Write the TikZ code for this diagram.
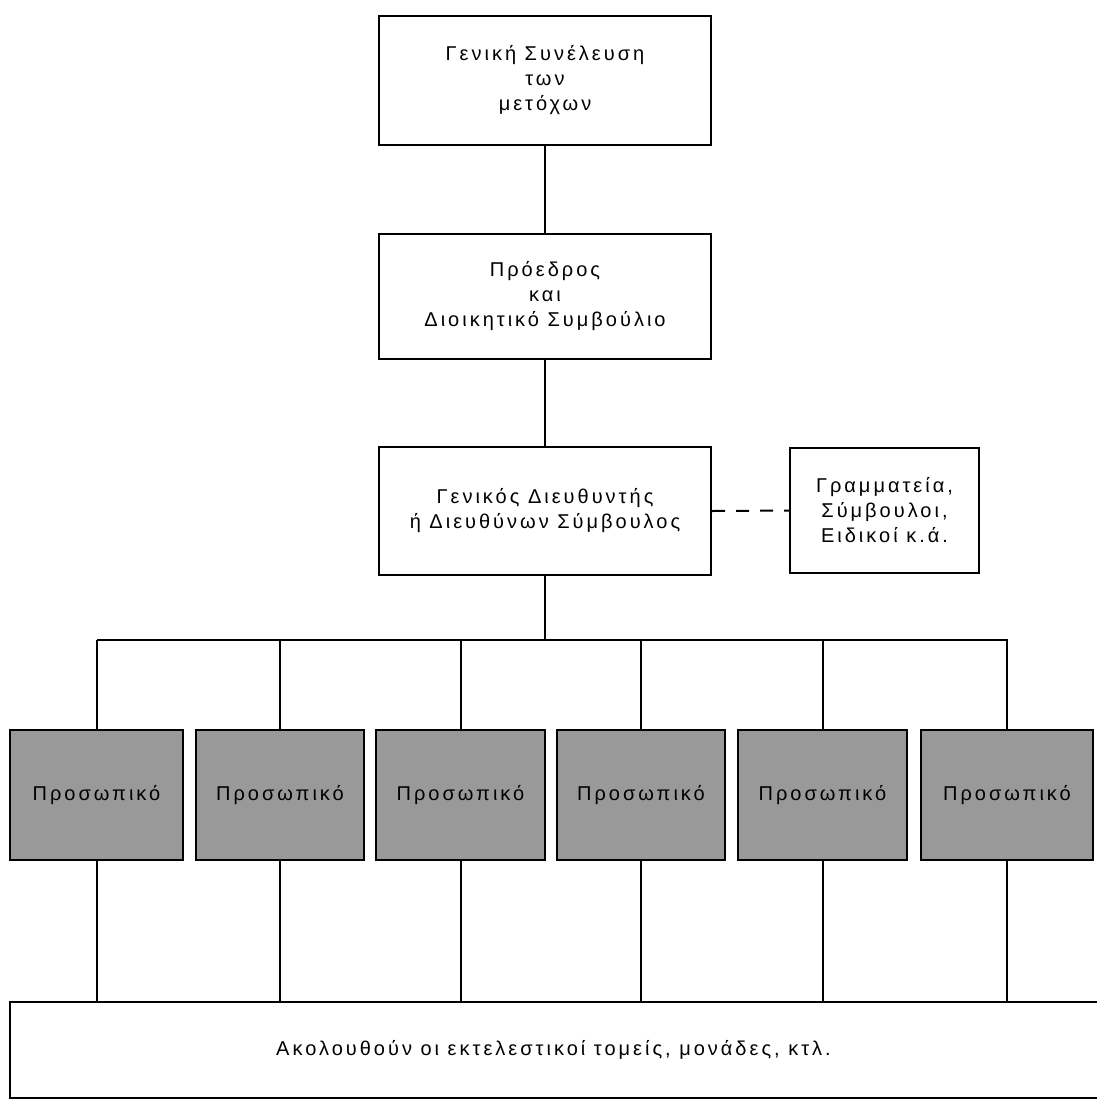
\documentclass[tikz,border=0pt]{standalone}
\usepackage{fontspec}
\setmainfont{Liberation Sans}[LetterSpace=15]
\begin{document}
\begin{tikzpicture}[x=1pt,y=-1pt,
  orgbox/.style={draw=black,line width=2pt,fill=white,align=center,inner sep=0pt,
    font=\fontsize{20}{25}\selectfont},
  staffbox/.style={draw=black,line width=2.2pt,fill=black!40,align=center,inner sep=0pt,
    minimum height=130pt,font=\fontsize{20}{25}\selectfont},
  link/.style={draw=black,line width=2pt},
  dashlink/.style={link,dash pattern=on 13pt off 11pt}]
\useasboundingbox[fill=white] (0,0) rectangle (1097,1109);

% upper levels
\node[orgbox,minimum width=332pt,minimum height=129pt] (assembly) at (545,80)
  {Γενική Συνέλευση\\των\\μετόχων};
\node[orgbox,minimum width=332pt,minimum height=125pt] (board) at (545,296)
  {Πρόεδρος\\και\\Διοικητικό Συμβούλιο};
\node[orgbox,minimum width=332pt,minimum height=128pt] (ceo) at (545,511)
  {Γενικός Διευθυντής\\ή Διευθύνων Σύμβουλος};
\node[orgbox,minimum width=189pt,minimum height=125pt] (staff) at (884.5,510.5)
  {Γραμματεία,\\Σύμβουλοι,\\Ειδικοί κ.ά.};

\draw[link] (assembly.south) -- (board.north);
\draw[link] (board.south) -- (ceo.north);
\draw[dashlink] (ceo.east) -- (staff.west);

% horizontal distribution line
\coordinate (busL) at (97,640);
\coordinate (busR) at (1008,640);
\draw[link] (ceo.south) -- (ceo.south |- busL);
\draw[link] (busL) -- (busR);

% personnel units
\node[staffbox,minimum width=173pt] (p1) at (96.5,795) {Προσωπικό};
\node[staffbox,minimum width=168pt] (p2) at (280,795) {Προσωπικό};
\node[staffbox,minimum width=169pt] (p3) at (460.5,795) {Προσωπικό};
\node[staffbox,minimum width=168pt] (p4) at (641,795) {Προσωπικό};
\node[staffbox,minimum width=169pt] (p5) at (822.5,795) {Προσωπικό};
\node[staffbox,minimum width=172pt] (p6) at (1007,795) {Προσωπικό};

% executive units (open on the right)
\node[minimum width=1087pt,minimum height=96pt,inner sep=0pt,
  font=\fontsize{20}{25}\selectfont] (exec) at (553.5,1050)
  {Ακολουθούν οι εκτελεστικοί τομείς, μονάδες, κτλ.};
\draw[line width=2pt] ([xshift=10pt]exec.north east) -- (exec.north west)
  -- (exec.south west) -- ([xshift=10pt]exec.south east);

\foreach \n in {p1,p2,p3,p4,p5,p6}{
  \draw[link] (\n.north |- busL) -- (\n.north);
  \draw[link] (\n.south) -- (\n.south |- exec.north);
}
\end{tikzpicture}
\end{document}
